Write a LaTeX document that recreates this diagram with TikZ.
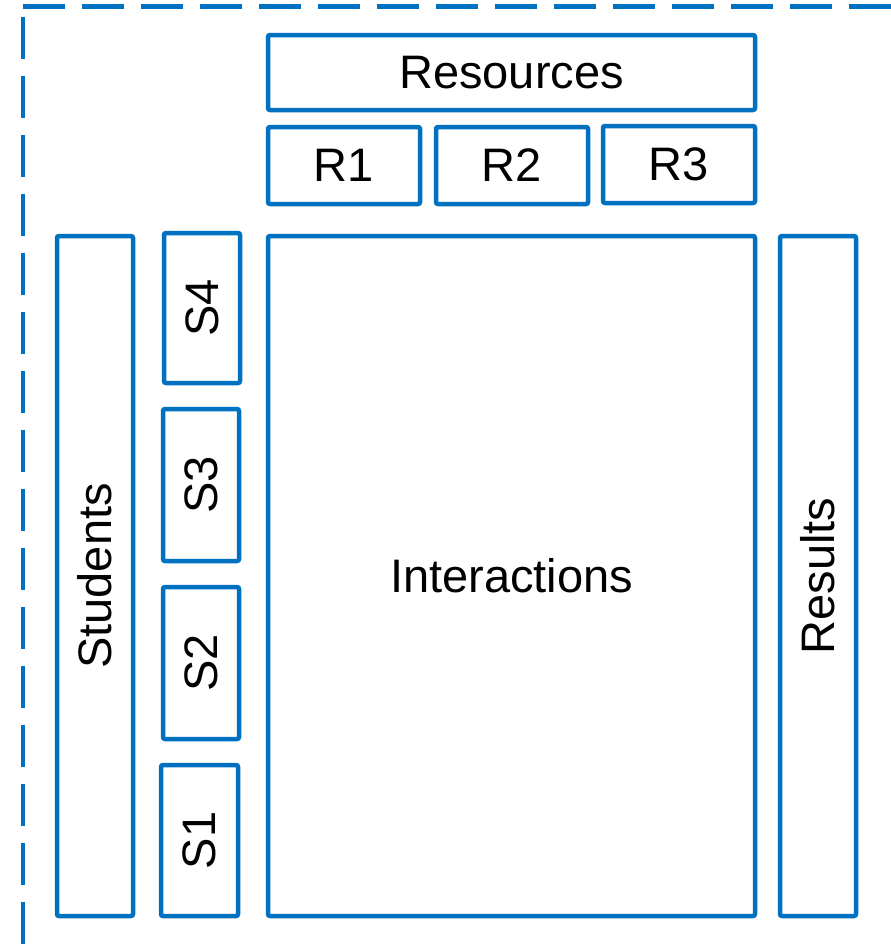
\documentclass[tikz,border=0pt]{standalone}
\usepackage{fontspec}
\setmainfont{Liberation Sans}
\definecolor{frameblue}{HTML}{0070C0}
\begin{document}
\begin{tikzpicture}[x=1pt,y=-1pt,
  box/.style={draw=frameblue, line width=4.5pt, rounded corners=2pt, inner sep=0pt, fill=white},
  lbl/.style={inner sep=0pt, font=\fontsize{47}{56}\selectfont, text=black},
  frame/.style={draw=frameblue, line width=4.6pt, dash pattern=on 42.5pt off 16.5pt}]
\useasboundingbox (0,0) rectangle (891,946);
% dashed outline along the top and left
\coordinate (topstart) at (22.7,6.5);
\coordinate (topend) at (895,6.5);
\coordinate (leftstart) at (23,16.7);
\coordinate (leftend) at (23,950);
\draw[frame] (topstart) -- (topend);
\draw[frame] (leftstart) -- (leftend);
% resources
\node[box, minimum width=487pt, minimum height=75pt] (res) at (511.5,72.5) {};
\node[lbl] at (res.center) {Resources};
\node[box, minimum width=152pt, minimum height=77pt] (r1) at (344,165.5) {};
\node[lbl] at (r1.center) {R1};
\node[box, minimum width=152pt, minimum height=77pt] (r2) at (512,165.5) {};
\node[lbl] at (r2.center) {R2};
\node[box, minimum width=152pt, minimum height=77pt] (r3) at (679,164.5) {};
\node[lbl] at (r3.center) {R3};
% students
\node[box, minimum width=76pt, minimum height=680pt] (stu) at (95,576) {};
\node[lbl, rotate=90] at (stu.center) {Students};
\node[box, minimum width=76pt, minimum height=150pt] (s4) at (202,308) {};
\node[lbl, rotate=90] at (s4.center) {S4};
\node[box, minimum width=76pt, minimum height=152pt] (s3) at (201,485) {};
\node[lbl, rotate=90] at (s3.center) {S3};
\node[box, minimum width=76pt, minimum height=152pt] (s2) at (201,663) {};
\node[lbl, rotate=90] at (s2.center) {S2};
\node[box, minimum width=77pt, minimum height=151pt] (s1) at (199.5,840.5) {};
\node[lbl, rotate=90] at (s1.center) {S1};
% interactions and results
\node[box, minimum width=487pt, minimum height=680pt] (inter) at (511.5,576) {};
\node[lbl] at (inter.center) {Interactions};
\node[box, minimum width=76pt, minimum height=680pt] (resu) at (818,576) {};
\node[lbl, rotate=90] at (resu.center) {Results};
\end{tikzpicture}
\end{document}
